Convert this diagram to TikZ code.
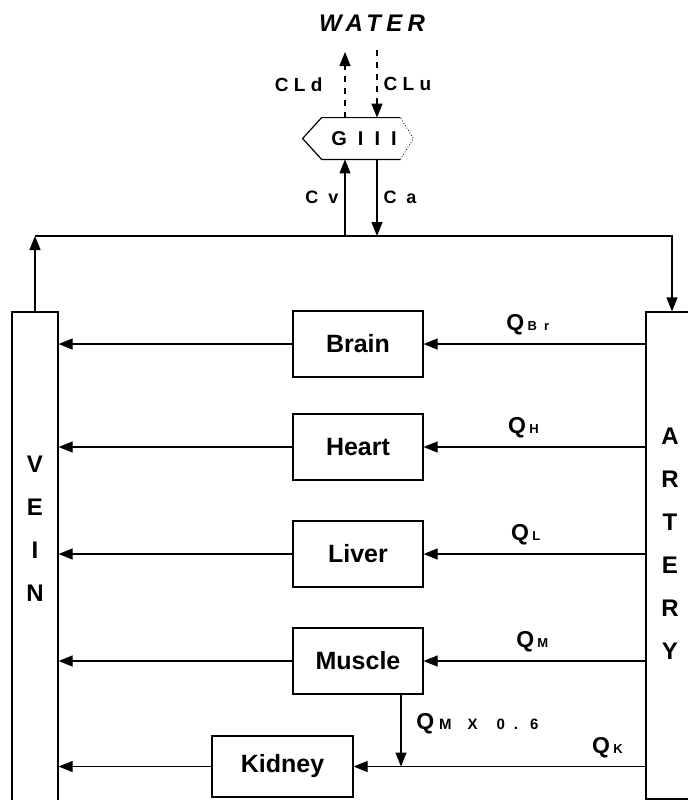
\documentclass[tikz,border=0pt]{standalone}
\usepackage{fontspec}
\setmainfont{Liberation Sans}
\newfontfamily\widefont[LetterSpace=55]{Liberation Sans}
\newfontfamily\tagfont[LetterSpace=28]{Liberation Sans}
\newfontfamily\halfwidefont[LetterSpace=22]{Liberation Sans}
\usetikzlibrary{arrows.meta, calc}

\newcommand{\qsub}[1]{{\fontsize{11.5}{12}\selectfont Q}\,{\widefont\bfseries\fontsize{6.5}{7}\selectfont #1}}

\tikzset{
  organ/.style={draw, line width=0.6pt, minimum width=65pt, minimum height=33pt,
    font=\fontsize{12.5}{15}\selectfont\bfseries},
  vessel/.style={draw, line width=0.6pt, minimum width=23pt, inner sep=0pt},
  vesseltext/.style={align=center, font=\fontsize{12}{21.5}\selectfont\bfseries},
  flow/.style={line width=0.6pt, -{Triangle[length=7pt,width=5.5pt]}},
  tag/.style={font=\widefont\bfseries\fontsize{9}{10}\selectfont, inner sep=3pt},
  cltag/.style={font=\tagfont\bfseries\fontsize{9.5}{10}\selectfont, inner sep=3pt},
  qtag/.style={font=\bfseries, above, inner sep=4pt},
}

\begin{document}
\begin{tikzpicture}[x=0.5pt, y=-0.5pt]
\useasboundingbox (0,0) rectangle (688,800);
%\draw[help lines, step=50] (0,0) grid (688,800);

% vessels
\node (vein) [vessel, minimum height=260pt] at (35,572) {};
\node (artery) [vessel, minimum width=26pt, minimum height=243.5pt] at (672,555.5) {};
\node (veintext) [vesseltext] at (35,529) {V\\E\\I\\N};
\node (arterytext) [vesseltext] at (670,544) {A\\R\\T\\E\\R\\Y};

% organs
\node (brain) [organ] at (358,344) {Brain};
\node (heart) [organ] at (358,447) {Heart};
\node (liver) [organ] at (358,554) {Liver};
\node (muscle) [organ] at (358,661) {Muscle};
\node (kidney) [organ, minimum width=70.5pt, minimum height=30.5pt] at (282.5,766.5) {Kidney};

% gills and water
\node (water) [font=\halfwidefont\bfseries\itshape\fontsize{12}{14}\selectfont] at (372,23) {WATER};
\node (g3) [minimum width=39pt, minimum height=20.5pt, inner sep=0pt] at (361,138.5) {};
\node (g3text) [font=\widefont\bfseries\fontsize{10}{12}\selectfont, inner sep=0pt] at (364,139) {GIII};
\draw [line width=0.6pt] (g3.north east) -- (g3.north west) -- ($(g3.west)+(-19,0)$)
  -- (g3.south west) -- (g3.south east);
\draw [densely dotted, line width=0.4pt] (g3.south east) -- ($(g3.east)+(13,0)$) -- (g3.north east);

\coordinate (top) at (0,236);
\coordinate (cv) at (345,236);
\coordinate (ca) at (377,236);
\coordinate (cld) at (345,52);
\coordinate (clu) at (377,50);

\draw [flow, dashed] (cld |- g3.north) -- node[cltag, left, xshift=-8pt]{CLd} (cld);
\draw [flow, dashed] (clu) -- node[cltag, right]{CLu} (clu |- g3.north);
\draw [flow] (cv) -- node[tag, left]{Cv} (cv |- g3.south);
\draw [flow] (ca |- g3.south) -- node[tag, right]{Ca} (ca);

% circulation loop
\draw [flow] (vein.north) -- (vein.north |- top);
\draw [flow] (vein.north |- top) -- (artery.north |- top) -- (artery.north);

% blood flows
\draw [flow] (artery.west |- brain) -- node[qtag, pos=0.53]{\qsub{Br}} (brain);
\draw [flow] (brain) -- (vein.east |- brain);
\draw [flow] (artery.west |- heart) -- node[qtag, pos=0.55]{\qsub{H}} (heart);
\draw [flow] (heart) -- (vein.east |- heart);
\draw [flow] (artery.west |- liver) -- node[qtag, pos=0.54]{\qsub{L}} (liver);
\draw [flow] (liver) -- (vein.east |- liver);
\draw [flow] (artery.west |- muscle) -- node[qtag, pos=0.51]{\qsub{M}} (muscle);
\draw [flow] (muscle) -- (vein.east |- muscle);
\draw [flow] (artery.west |- kidney) -- node[qtag, pos=0.13]{\qsub{K}} (kidney);
\draw [flow] (kidney) -- (vein.east |- kidney);
\draw [flow] ([xshift=21.5pt]muscle.south) -- node[font=\bfseries, anchor=west, xshift=4pt, pos=0.4]
  {{\fontsize{11.5}{12}\selectfont Q}\hspace{2.5pt}{\fontsize{7.5}{8}\selectfont M\hspace{8pt}X\hspace{9.5pt}0\hspace{4.5pt}.\hspace{6pt}6}}
  ([xshift=21.5pt]muscle.south |- kidney);
\end{tikzpicture}
\end{document}
